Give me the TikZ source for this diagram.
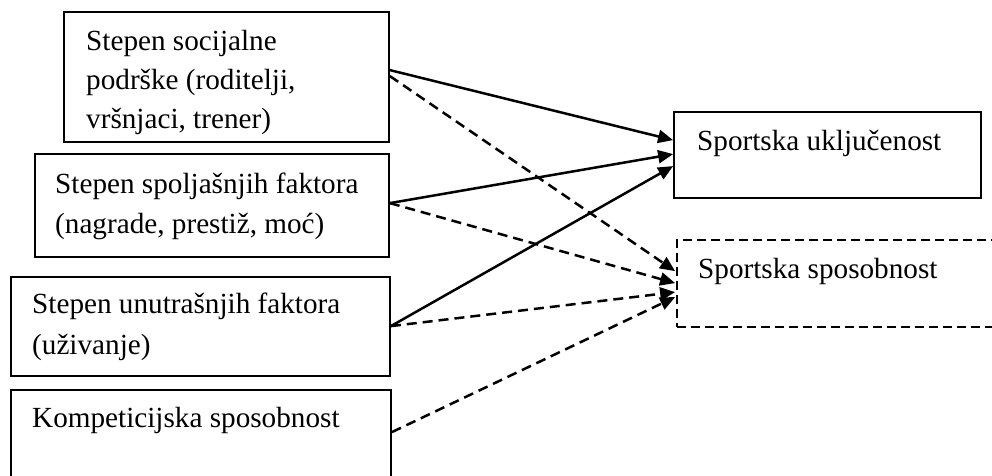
\documentclass[tikz,border=0pt]{standalone}
\usepackage{fontspec}
\setmainfont{Liberation Serif}
\usetikzlibrary{arrows.meta,fit}
\begin{document}
\begin{tikzpicture}[x=1pt,y=-1pt,
  box/.style={draw, line width=1.8pt, inner sep=0pt},
  dbox/.style={box, dash pattern=on 9pt off 5pt},
  txt/.style={anchor=base west, inner sep=0pt, font=\fontsize{29.2}{40}\selectfont},
  sol/.style={line width=2.5pt, -{Triangle[length=15pt,width=13pt]}},
  das/.style={sol, dash pattern=on 10pt off 6pt}]
\useasboundingbox (0,0) rectangle (992,475);
% boxes
\node[box, fit={(64,12) (389,142)}] (A) {};
\node[box, fit={(35,154) (389,257)}] (B) {};
\node[box, fit={(11,277) (390,376)}] (C) {};
\node[box, fit={(11,390) (391,495)}] (D) {};
\node[box, fit={(674,112) (981,198)}] (E) {};
\node[dbox, fit={(677,240) (1005,327)}] (F) {};
% texts
\node[txt] (a1t) at (86,50) {Stepen socijalne};
\node[txt] (a2t) at (86,89) {podrške (roditelji,};
\node[txt] (a3t) at (86,128) {vršnjaci, trener)};
\node[txt] (b1t) at (55,193) {Stepen spoljašnjih faktora};
\node[txt] (b2t) at (55,233) {(nagrade, prestiž, moć)};
\node[txt] (c1t) at (32,313) {Stepen unutrašnjih faktora};
\node[txt] (c2t) at (32,354) {(uživanje)};
\node[txt] (d1t) at (32,427) {Kompeticijska sposobnost};
\node[txt] (e1t) at (697,150) {Sportska uključenost};
\node[txt] (f1t) at (698,278) {Sportska sposobnost};
% connector anchor points on box edges
\path (A.north east) ++(0,59) coordinate (a1) ++(0,6) coordinate (a2);
\path (B.north east) ++(0,50) coordinate (b1);
\path (C.north east) ++(0,50) coordinate (c1);
\path (D.north east) ++(0,43) coordinate (d1);
\path (E.north west) ++(0,29) coordinate (e1) ++(0,14) coordinate (e2) ++(0,12) coordinate (e3);
\path (F.north west) ++(-1,32) coordinate (f1) ++(0,12) coordinate (f2) ++(0,9) coordinate (f3) ++(0,5) coordinate (f4);
% connectors
\draw[sol] (a1) -- (e1);
\draw[das] (a2) -- (f1);
\draw[sol] (b1) -- (e2);
\draw[das] (b1) -- (f2);
\draw[sol] (c1) -- (e3);
\draw[das] (c1) -- (f3);
\draw[das] (d1) -- (f4);
\end{tikzpicture}
\end{document}
